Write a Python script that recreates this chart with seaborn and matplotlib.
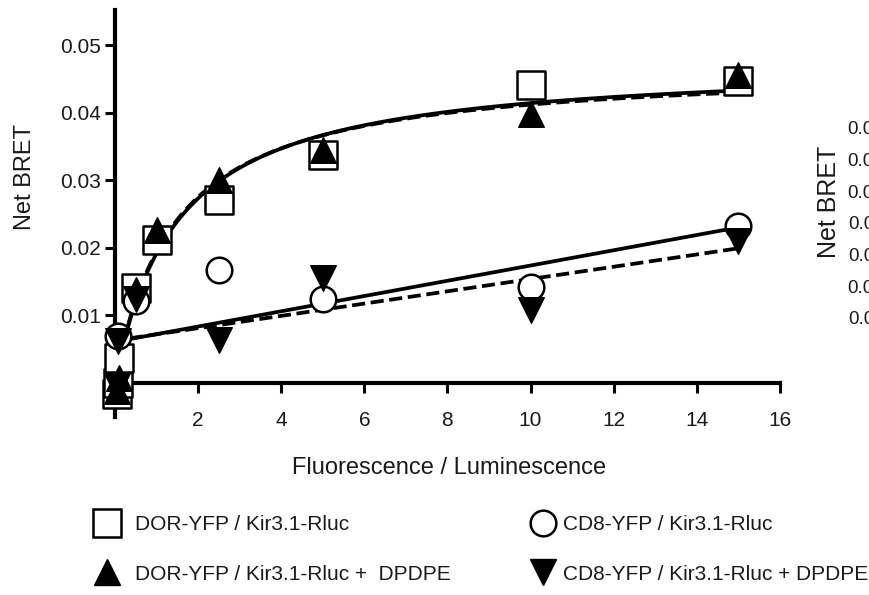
import numpy as np
import matplotlib
matplotlib.use("Agg")
import matplotlib.pyplot as plt
from matplotlib.lines import Line2D
import seaborn as sns

# DOR-YFP / Kir3.1-Rluc (open squares)
dor_x = [0.05, 0.07, 0.1, 0.5, 1, 2.5, 5, 10, 15]
dor_y = [-0.0017, 0.0, 0.0037, 0.0141, 0.0212, 0.0271, 0.0338, 0.0441, 0.0447]
# DOR-YFP / Kir3.1-Rluc + DPDPE (filled up triangles)
dor_dp_x = [0.05, 0.1, 0.5, 1, 2.5, 5, 10, 15]
dor_dp_y = [-0.0012, 0.0008, 0.0138, 0.0227, 0.0300, 0.0345, 0.0399, 0.0457]
# CD8-YFP / Kir3.1-Rluc (open circles)
cd8_x = [0.07, 0.5, 2.5, 5, 10, 15]
cd8_y = [0.0070, 0.0121, 0.0167, 0.0124, 0.0142, 0.0232]
# CD8-YFP / Kir3.1-Rluc + DPDPE (filled down triangles)
cd8_dp_x = [0.05, 0.07, 0.5, 2.5, 5, 10, 15]
cd8_dp_y = [-0.0005, 0.0062, 0.0125, 0.0064, 0.0156, 0.0108, 0.0210]

# fit parameters
dor_fit = (0.0476, 1.48)        # Bmax, K (hyperbola)
dor_dp_fit = (0.0471, 1.42)
cd8_fit = (0.0061, 0.00113)     # intercept, slope
cd8_dp_fit = (0.0063, 0.00091)

labels = ["DOR-YFP / Kir3.1-Rluc", "DOR-YFP / Kir3.1-Rluc +  DPDPE",
          "CD8-YFP / Kir3.1-Rluc", "CD8-YFP / Kir3.1-Rluc + DPDPE"]
xticks = [2, 4, 6, 8, 10, 12, 14, 16]
yticks = [0.01, 0.02, 0.03, 0.04, 0.05]
right_yticks = [0.01, 0.02, 0.03, 0.04, 0.05, 0.06, 0.07]

sns.set_style("white")
plt.rcParams["font.family"] = ["Liberation Sans", "DejaVu Sans"]
plt.rcParams["text.color"] = "#1a1a1a"

fig = plt.figure(figsize=(8.69, 5.95), dpi=100)
ax = fig.add_axes([0.1084, 0.2992, 0.8034, 0.684])

# fitted curves
xh = np.linspace(0.2, 15, 200)
sns.lineplot(x=xh, y=dor_fit[0] * xh / (dor_fit[1] + xh), color="black",
             linewidth=2.7, ax=ax, zorder=2)
sns.lineplot(x=xh, y=dor_dp_fit[0] * xh / (dor_dp_fit[1] + xh), color="black",
             linewidth=2.7, linestyle=(0, (3.5, 1.5)), ax=ax, zorder=2)
xl = np.linspace(0.35, 15, 50)
sns.lineplot(x=xl, y=cd8_fit[0] + cd8_fit[1] * xl, color="black",
             linewidth=2.7, ax=ax, zorder=2)
sns.lineplot(x=xl, y=cd8_dp_fit[0] + cd8_dp_fit[1] * xl, color="black",
             linewidth=2.7, linestyle=(0, (3.5, 1.5)), ax=ax, zorder=2)

# points
sns.scatterplot(x=dor_x, y=dor_y, marker="s", s=390, color="white",
                edgecolor="black", linewidth=1.8, ax=ax, zorder=3)
sns.scatterplot(x=dor_dp_x, y=dor_dp_y, marker="^", s=340, color="black",
                edgecolor="black", linewidth=1, ax=ax, zorder=4)
sns.scatterplot(x=cd8_x, y=cd8_y, marker="o", s=340, color="white",
                edgecolor="black", linewidth=1.8, ax=ax, zorder=5)
sns.scatterplot(x=cd8_dp_x, y=cd8_dp_y, marker="v", s=340, color="black",
                edgecolor="black", linewidth=1, ax=ax, zorder=6)

ax.set_xlim(-0.5, 16.3)
ax.set_ylim(-0.00504, 0.05526)
for side in ["top", "right"]:
    ax.spines[side].set_visible(False)
for side in ["left", "bottom"]:
    ax.spines[side].set_linewidth(3)
    ax.spines[side].set_color("black")
ax.spines["left"].set_position(("data", 0))
ax.spines["bottom"].set_position(("data", 0))
ax.spines["bottom"].set_bounds(0, 16)
ax.set_xticks(xticks)
ax.set_yticks(yticks)
ax.set_yticklabels([f"{v:.2f}" for v in yticks])
ax.tick_params(axis="both", which="major", direction="out", length=7, width=2.2,
               color="black", labelsize=15, labelcolor="#1a1a1a",
               left=True, bottom=True)
ax.tick_params(axis="x", pad=13)
ax.tick_params(axis="y", pad=3)
ax.set_xlabel("")
ax.set_ylabel("")
ax.grid(False)

fig.text(25 / 869, 1 - 177 / 595, "Net BRET", rotation=90, ha="center",
         va="center", fontsize=17)
fig.text(449 / 869, 1 - 468 / 595, "Fluorescence / Luminescence",
         ha="center", va="center", fontsize=17)

# legend (two columns)
h_sq = Line2D([], [], marker="s", ls="none", ms=19.5, mfc="white", mec="black", mew=1.8)
h_up = Line2D([], [], marker="^", ls="none", ms=18.5, mfc="black", mec="black", mew=1)
h_ci = Line2D([], [], marker="o", ls="none", ms=18.5, mfc="white", mec="black", mew=1.8)
h_dn = Line2D([], [], marker="v", ls="none", ms=18.5, mfc="black", mec="black", mew=1)
fig.legend([h_sq, h_up], labels[:2], loc="center left",
           bbox_to_anchor=(93.5 / 869, 1 - 549.5 / 595), frameon=False,
           fontsize=15, handlelength=1.3, handletextpad=0.7, labelspacing=1.45,
           borderpad=0, borderaxespad=0)
fig.legend([h_ci, h_dn], labels[2:], loc="center left",
           bbox_to_anchor=(529.5 / 869, 1 - 549.5 / 595), frameon=False,
           fontsize=15, handlelength=1.3, handletextpad=0.31, labelspacing=1.45,
           borderpad=0, borderaxespad=0)

# neighbouring panel, cut off at the right edge
ax2 = fig.add_axes([890 / 869, 1 - 349.7 / 595, 0.5, 253.6 / 595])
ax2.set_ylim(0, 0.08)
ax2.set_xticks([])
ax2.set_yticks(right_yticks)
ax2.set_yticklabels([f"{v:.2f}" for v in right_yticks])
ax2.tick_params(axis="y", length=0, pad=4, labelsize=13.5, left=True,
                labelcolor="#1a1a1a")
for side in ["top", "right", "bottom", "left"]:
    ax2.spines[side].set_visible(False)
fig.text(829 / 869, 1 - 202 / 595, "Net BRET", rotation=90, ha="center",
         va="center", fontsize=18)

fig.savefig("out.png", dpi=100)
